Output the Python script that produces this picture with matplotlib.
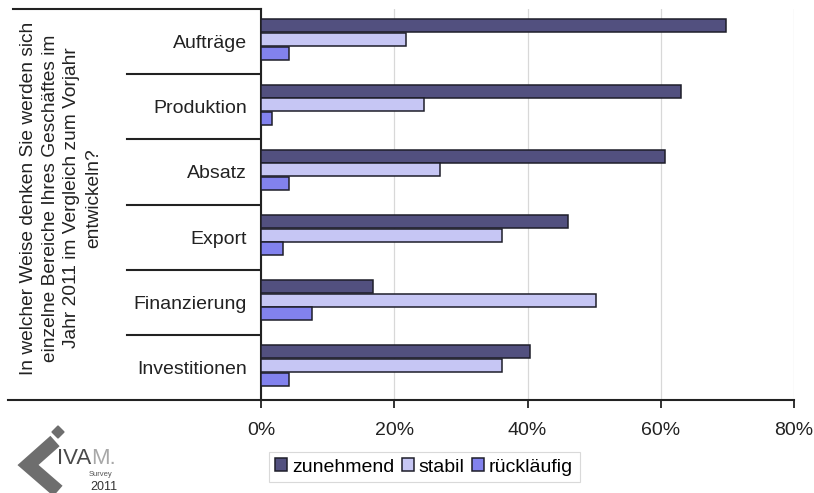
import matplotlib
matplotlib.use("Agg")
import matplotlib.pyplot as plt
import numpy as np
from matplotlib.patches import Polygon

plt.rcParams['font.family'] = ['Liberation Sans', 'DejaVu Sans']

categories = ["Aufträge", "Produktion", "Absatz", "Export", "Finanzierung", "Investitionen"]
zunehmend = [0.698, 0.631, 0.606, 0.461, 0.168, 0.404]
stabil = [0.218, 0.244, 0.269, 0.361, 0.503, 0.361]
ruecklaeufig = [0.042, 0.016, 0.042, 0.033, 0.077, 0.042]
series_names = ["zunehmend", "stabil", "rückläufig"]
series_colors = ["#52507f", "#c6c6f4", "#8282ee"]
xticks = [0, 0.2, 0.4, 0.6, 0.8]
xticklabels = ["0%", "20%", "40%", "60%", "80%"]
ylabel = ("In welcher Weise denken Sie werden sich\n"
          "einzelne Bereiche Ihres Geschäftes im\n"
          "Jahr 2011 im Vergleich zum Vorjahr\n"
          "entwickeln?")

W, H = 814, 493
fig = plt.figure(figsize=(W / 100, H / 100), dpi=100)
fig.patch.set_facecolor("white")

L, R, T, B = 261, 794, 9, 400
ax = fig.add_axes([L / W, 1 - B / H, (R - L) / W, (B - T) / H])

y = np.arange(len(categories))
h = 0.2
offs = [-0.21, 0.0, 0.21]
for vals, off, col, name in zip([zunehmend, stabil, ruecklaeufig], offs, series_colors, series_names):
    ax.barh(y + off - 0.03, vals, height=h, color=col, edgecolor="#1e1e2a",
            linewidth=1.1, label=name, zorder=3)

ax.set_xlim(0, 0.8)
ax.set_ylim(len(categories) - 0.5, -0.5)
ax.set_xticks(xticks)
ax.set_xticklabels(xticklabels, fontsize=14, color="#222222")
ax.set_yticks(y)
ax.set_yticklabels(categories, fontsize=14, color="#222222")
ax.tick_params(axis="y", length=0, pad=10)
ax.tick_params(axis="x", length=6, width=1.3, direction="out", pad=10, color="#222222")
ax.xaxis.grid(True, color="#d8d8d8", linewidth=0.9, zorder=0)
for s in ["top", "right"]:
    ax.spines[s].set_visible(False)
for s in ["left", "bottom"]:
    ax.spines[s].set_linewidth(1.5)
    ax.spines[s].set_color("#222222")

# overlay in pixel coordinates for table lines, label and logo
ov = fig.add_axes([0, 0, 1, 1], zorder=-1)
ov.set_xlim(0, W)
ov.set_ylim(H, 0)
ov.axis("off")
ov.patch.set_alpha(0)

ov.plot([13, L], [T, T], color="#222222", lw=1.5)
ov.plot([8, L], [B, B], color="#222222", lw=1.5)
step = (B - T) / len(categories)
for i in range(1, len(categories)):
    yy = T + i * step
    ov.plot([127, L], [yy, yy], color="#222222", lw=1.5)

ov.text(61, 198, ylabel, rotation=90, ha="center", va="center",
        fontsize=13.8, color="#222222", linespacing=1.38, multialignment="center")

# legend
leg = ax.legend(loc="center", bbox_to_anchor=(424 / W, 1 - 467 / H),
                bbox_transform=fig.transFigure, ncol=3, fontsize=14,
                handlelength=0.6, handleheight=0.6, handletextpad=0.25,
                columnspacing=0.4, borderpad=0.35, frameon=True, fancybox=False)
leg.get_frame().set_edgecolor("#d0d0d0")
leg.get_frame().set_linewidth(0.8)

# logo
ov.plot([55, 28, 58], [441, 465, 491], color="#6e6e6e", lw=10,
        solid_joinstyle="miter", solid_capstyle="butt")
ov.add_patch(Polygon([[58, 426], [64, 432], [58, 438], [52, 432]], closed=True,
                     color="#6e6e6e"))
t1 = ov.text(57, 458, "IVA", fontsize=16, color="#4a4a4a", ha="left", va="center")
ov.annotate("M.", xy=(1, 0.5), xycoords=t1, xytext=(0, 0), textcoords="offset points",
            fontsize=16, color="#a8a8a8", ha="left", va="center")
ov.text(89, 474, "Survey", fontsize=5.5, color="#555555", ha="left", va="center")
ov.text(90, 487, "2011", fontsize=9, color="#333333", ha="left", va="center")

fig.savefig("out.png", dpi=100, facecolor="white")
